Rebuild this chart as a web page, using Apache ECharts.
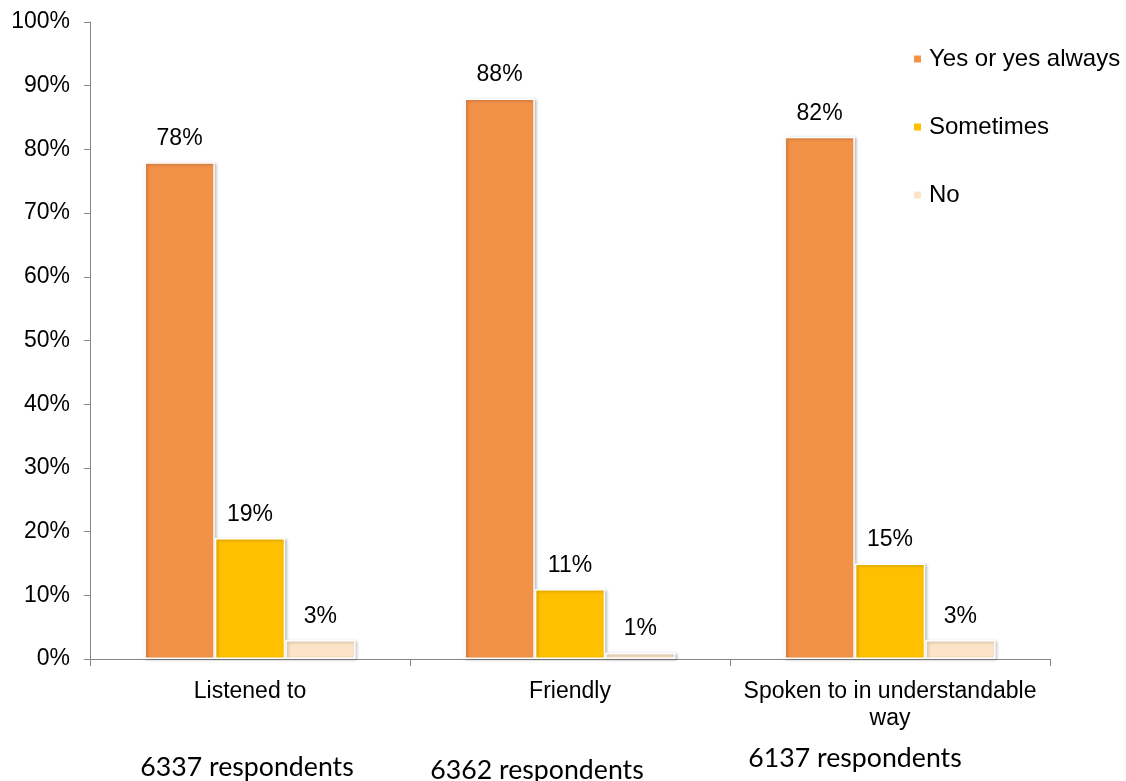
<!DOCTYPE html>
<html>
<head>
<meta charset="utf-8">
<script src="https://cdn.jsdelivr.net/npm/echarts@6/dist/echarts.min.js"></script>
<style>
  html, body { margin: 0; padding: 0; background: #fff; }
  #chart { width: 1126px; height: 781px; }
</style>
</head>
<body>
<div id="chart"></div>
<script>
// Survey categories and response shares (percent)
const categories = ['Listened to', 'Friendly', 'Spoken to in understandable\nway'];
const yesAlways = [78, 88, 82];
const sometimes = [19, 11, 15];
const no = [3, 1, 3];
const respondents = ['6337 respondents', '6362 respondents', '6137 respondents'];
const yTicks = [0, 10, 20, 30, 40, 50, 60, 70, 80, 90, 100];

const seriesNames = ['Yes or yes always', 'Sometimes', 'No'];
const seriesColors = ['#F29148', '#FFC000', '#FDE4C8'];
const seriesData = [yesAlways, sometimes, no];

const FONT = '"Liberation Sans", Arial, sans-serif';
const NOTE_FONT = '26.7px Lato, "Open Sans", sans-serif';

const chart = echarts.init(document.getElementById('chart'), null, { renderer: 'canvas' });

chart.setOption({
  animation: false,
  backgroundColor: '#ffffff',
  textStyle: { fontFamily: FONT, color: '#000' },
  grid: { left: 90, right: 76, top: 22, bottom: 122, containLabel: false },
  legend: {
    orient: 'vertical',
    left: 907,
    top: 42,
    itemWidth: 9,
    itemHeight: 9,
    itemGap: 44,
    icon: 'rect',
    data: seriesNames,
    textStyle: { fontFamily: FONT, fontSize: 24, color: '#000', padding: [0, 0, 0, 2] }
  },
  xAxis: {
    type: 'category',
    data: categories,
    axisLine: { lineStyle: { color: '#868686', width: 1 } },
    axisTick: { show: true, length: 7, lineStyle: { color: '#868686' } },
    axisLabel: {
      margin: 19,
      fontSize: 23,
      fontFamily: FONT,
      color: '#000',
      lineHeight: 27,
      interval: 0
    }
  },
  yAxis: {
    type: 'value',
    min: yTicks[0],
    max: yTicks[yTicks.length - 1],
    interval: 10,
    splitLine: { show: false },
    axisLine: { show: true, lineStyle: { color: '#868686', width: 1 } },
    axisTick: { show: true, length: 6, lineStyle: { color: '#868686' } },
    axisLabel: {
      margin: 20,
      fontSize: 23,
      fontFamily: FONT,
      color: '#000',
      formatter: v => v + '%'
    }
  },
  series: seriesNames.map((name, i) => ({
    name: name,
    type: 'bar',
    data: seriesData[i],
    barGap: '0%',
    barCategoryGap: '34%',
    itemStyle: {
      color: seriesColors[i],
      borderColor: '#ffffff',
      borderWidth: 1.5,
      shadowColor: 'rgba(0,0,0,0.25)',
      shadowBlur: 3,
      shadowOffsetX: 1.5,
      shadowOffsetY: 1
    },
    label: {
      show: true,
      position: 'top',
      distance: 12,
      fontSize: 23,
      fontFamily: FONT,
      color: '#000',
      formatter: p => p.value + '%'
    }
  })),
  graphic: [
    { type: 'text', x: 247, y: 767, style: { text: respondents[0], font: NOTE_FONT, fill: '#000', textAlign: 'center', textVerticalAlign: 'middle' } },
    { type: 'text', x: 537, y: 770, style: { text: respondents[1], font: NOTE_FONT, fill: '#000', textAlign: 'center', textVerticalAlign: 'middle' } },
    { type: 'text', x: 855, y: 758, style: { text: respondents[2], font: NOTE_FONT, fill: '#000', textAlign: 'center', textVerticalAlign: 'middle' } }
  ]
});
</script>
</body>
</html>
